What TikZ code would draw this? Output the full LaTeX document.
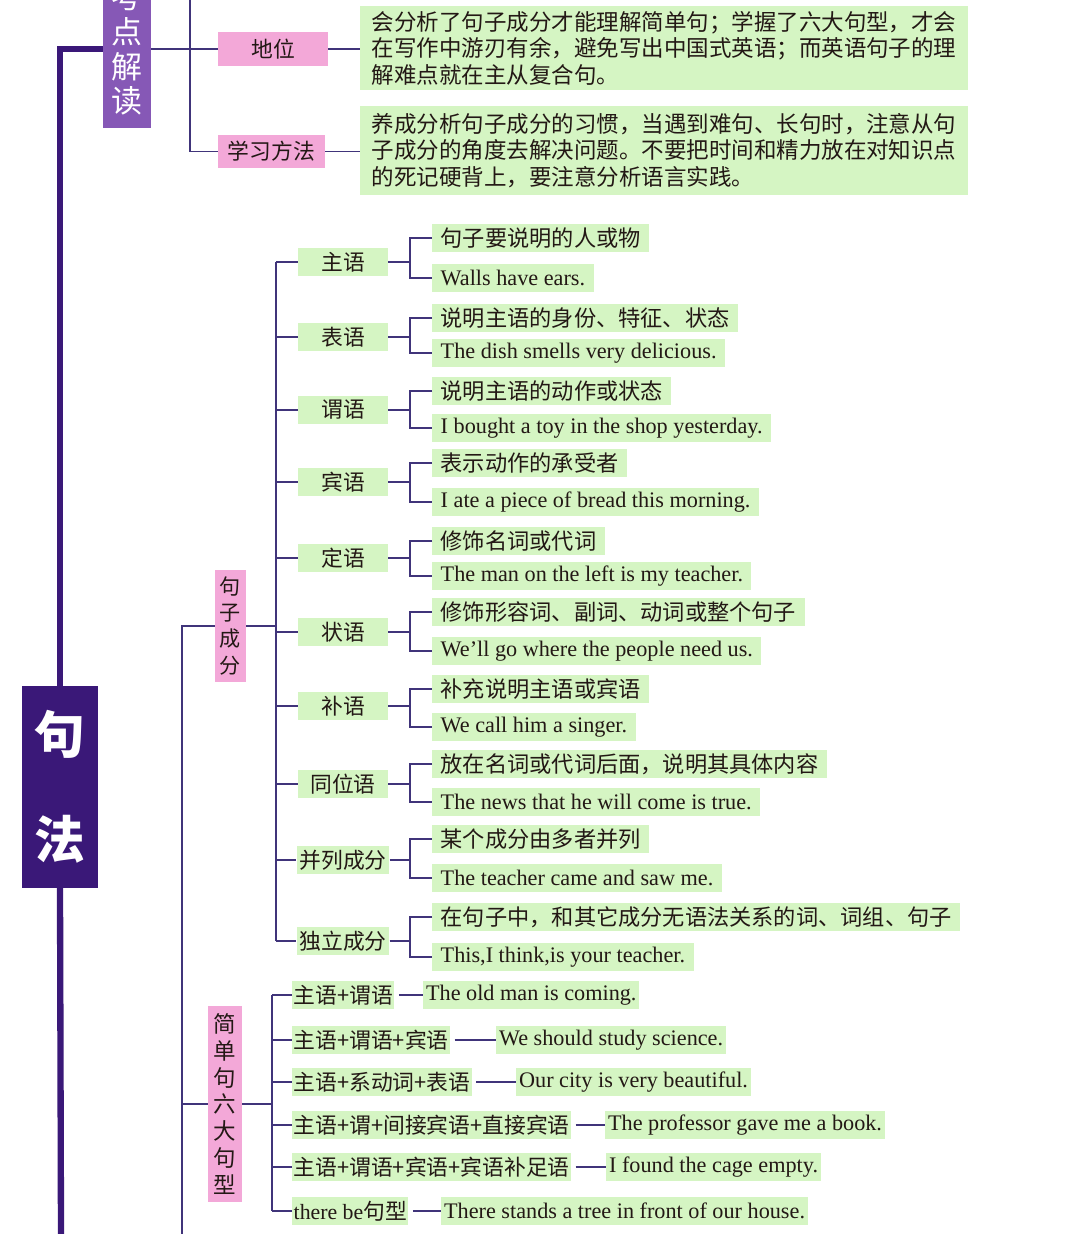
\documentclass[tikz,border=0pt]{standalone}
\usepackage{fontspec}
\usepackage{xcolor}
\setmainfont{Liberation Serif}
\newfontfamily\cjk{Noto Sans CJK SC}

\definecolor{leafgreen}{HTML}{D5F5C3}
\definecolor{tagpink}{HTML}{F3A8D8}
\definecolor{headpurple}{HTML}{8658B6}
\definecolor{rootindigo}{HTML}{3A1878}
\definecolor{linkcol}{HTML}{40347A}
\definecolor{inkcol}{HTML}{231815}

\begin{document}
\begin{tikzpicture}[
    x=0.025cm, y=-0.025cm,
    link/.style={draw=linkcol, line width=1.3pt},
    trunk/.style={draw=rootindigo, line width=4.5pt},
    zh/.style={font=\cjk\fontsize{15.5}{18}\selectfont},
    zhleaf/.style={font=\cjk\fontsize{15.8}{18}\selectfont},
    en/.style={font=\fontsize{15.8}{18}\selectfont},
    tag/.style={fill=tagpink, text=inkcol, inner sep=0pt, align=center},
    part/.style={fill=leafgreen, text=inkcol, zh, minimum width=2.25cm, minimum height=0.7cm, inner xsep=2pt, inner ysep=0pt},
    leaf/.style={fill=leafgreen, text=inkcol, anchor=west, inner xsep=6pt, inner ysep=0pt, minimum height=0.68cm},
    note/.style={fill=leafgreen, text=inkcol, align=left, minimum width=15.2cm, font=\cjk\fontsize{16}{18.8}\selectfont}
]
\useasboundingbox (0,0) rectangle (1080,1234);

% root and head
\node[fill=rootindigo, text=white, minimum width=1.9cm, minimum height=5.025cm, inner sep=0pt, align=center,
      font=\cjk\bfseries\fontsize{36}{74.4}\selectfont] (root) at (60,787) {句\\法};
\node[fill=headpurple, text=white, minimum width=1.2cm, minimum height=3.95cm, inner sep=0pt, align=center,
      font=\cjk\fontsize{22}{24.8}\selectfont] (kd) at (127,49) {考\\点\\解\\读};
\coordinate (bottom) at (61,1234);
\draw[trunk] (kd.west) -| (root.north);
\draw[trunk] (root.south) -- (bottom);

% 考点解读
\node[tag, zh, minimum width=2.75cm, minimum height=0.85cm] (dw) at (273,49) {地位};
\node[tag, zh, minimum width=2.675cm, minimum height=0.825cm] (xf) at (271.5,151.5) {学习方法};
\node[note, minimum height=2cm] (n1) at (664,48)
    {会分析了句子成分才能理解简单句；学握了六大句型，才会\\在写作中游刃有余，避免写出中国式英语；而英语句子的理\\解难点就在主从复合句。};
\node[note, minimum height=2.225cm] (n2) at (664,150.5)
    {养成分析句子成分的习惯，当遇到难句、长句时，注意从句\\子成分的角度去解决问题。不要把时间和精力放在对知识点\\的死记硬背上，要注意分析语言实践。};
\coordinate (kdtop) at (190,0);
\draw[link] (kd.east) -- (dw.west);
\draw[link] (kdtop) |- (xf.west);
\draw[link] (dw.east) -- (dw.east -| n1.west);
\draw[link] (xf.east) -- (xf.east -| n2.west);

% 句子成分
\node[tag, minimum width=0.78cm, minimum height=2.8cm, font=\cjk\fontsize{15}{18.5}\selectfont] (jz) at (230.5,626) {句\\子\\成\\分};
\node[tag, minimum width=0.85cm, minimum height=4.875cm, font=\cjk\fontsize{16}{19.1}\selectfont] (jd) at (225,1104) {简\\单\\句\\六\\大\\句\\型};
\coordinate (low) at (182,1234);
\draw[link] (jz.west) -| (low);
\draw[link] (jd.west) -- (jd.west -| low);

\coordinate (sp) at (276,0);
\coordinate (bx) at (410,0);
\foreach \y/\nm/\ya/\yb/\za/\eb [count=\i] in {
    262/主语/238/278/句子要说明的人或物/Walls have ears.,
    337/表语/318/353/说明主语的身份、特征、状态/The dish smells very delicious.,
    410/谓语/391/428/说明主语的动作或状态/I bought a toy in the shop yesterday.,
    482/宾语/463/502/表示动作的承受者/I ate a piece of bread this morning.,
    558/定语/541/576/修饰名词或代词/The man on the left is my teacher.,
    632/状语/612/651/修饰形容词、副词、动词或整个句子/We’ll go where the people need us.,
    706/补语/689/727/补充说明主语或宾语/We call him a singer.,
    784/同位语/764/802/放在名词或代词后面，说明其具体内容/The news that he will come is true.,
    860/并列成分/839/878/某个成分由多者并列/The teacher came and saw me.,
    941/独立成分/917/957/在句子中，和其它成分无语法关系的词、词组、句子/{This,I think,is your teacher.}} {
  \node[part] (p\i) at (343,\y) {\nm};
  \node[leaf, zhleaf] (a\i) at (432,\ya) {\za};
  \node[leaf, en] (b\i) at (432,\yb) {\eb};
  \draw[link] (p\i.west -| sp) -- (p\i.west);
  \draw[link] (p\i.east) -- (p\i.east -| bx);
  \draw[link] (a\i.west) -- (a\i.west -| bx) |- (b\i.west);
}
\draw[link] (p1.west -| sp) -- (p10.west -| sp);
\draw[link] (jz.east) -- (jz.east -| sp);

% 简单句六大句型
\coordinate (sp2) at (272,0);
\foreach \y/\pat/\xs/\sen [count=\i] in {
    995/主语+谓语/423/The old man is coming.,
    1040/主语+谓语+宾语/496/We should study science.,
    1082/主语+系动词+表语/516/Our city is very beautiful.,
    1125/主语+谓+间接宾语+直接宾语/605/The professor gave me a book.,
    1167/主语+谓语+宾语+宾语补足语/606/I found the cage empty.,
    1211/{{\rmfamily there be}句型}/441/There stands a tree in front of our house.} {
  \node[leaf, zh, inner xsep=1pt] (s\i) at (292,\y) {\pat};
  \node[leaf, en, inner xsep=2pt] (t\i) at (\xs,\y) {\sen};
  \draw[link] (s\i.west -| sp2) -- (s\i.west);
  \draw[link, shorten <=3pt] (s\i.east) -- (t\i.west);
}
\draw[link] (s1.west -| sp2) -- (s6.west -| sp2);
\draw[link] (jd.east) -- (jd.east -| sp2);
\end{tikzpicture}
\end{document}
